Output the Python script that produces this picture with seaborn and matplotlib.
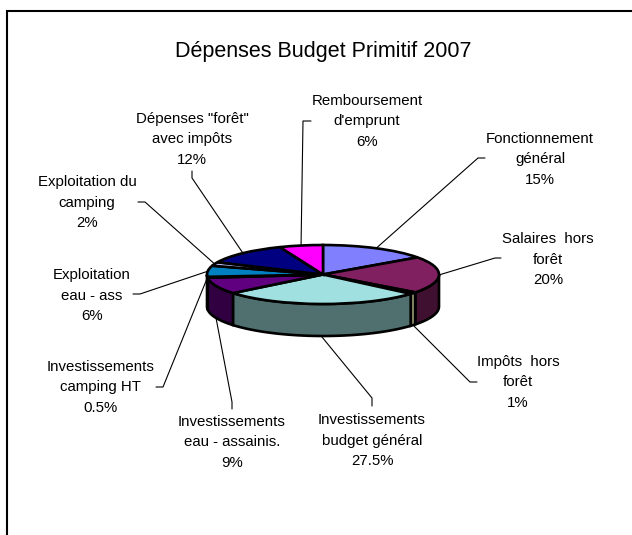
import numpy as np
import seaborn as sns
import matplotlib.pyplot as plt
from matplotlib.patches import Polygon

W, H = 632, 535

title = "Dépenses Budget Primitif 2007"
labels = ["Fonctionnement\ngénéral\n15%", "Salaires  hors\nforêt\n20%", "Impôts  hors\nforêt\n1%",
          "Investissements\nbudget général\n27.5%", "Investissements\neau - assainis.\n9%",
          "Investissements\ncamping HT\n0.5%", "Exploitation\neau - ass\n6%",
          "Exploitation du\ncamping\n2%", "Dépenses \"forêt\"\navec impôts\n12%",
          "Remboursement\nd'emprunt\n6%"]
values = [15, 20, 1, 27.5, 9, 0.5, 6, 2, 12, 6]
colors = ["#8080FF", "#802060", "#FFFFC0", "#A0E0E0", "#600080",
          "#E08080", "#0080C0", "#C0C0FF", "#000080", "#FF00FF"]

# label centres and leader elbows, pixels from top left
label_xy = [(540, 159.5), (548, 259.5), (518, 382.5), (372, 440.5), (232, 442.5),
            (101, 387.5), (92, 295.5), (87, 202.5), (192, 139.5), (367, 121.5)]
elbows = [[(478, 158), (485, 158)], [(495, 258), (501, 258)], [(470, 382), (477, 382)],
          [(372, 398), (372, 406)], [(232, 402), (232, 409)], [(163, 387), (156, 387)],
          [(140, 294), (133, 294)], [(145, 202), (138, 202)], [(192, 178), (192, 171)],
          [(303, 121), (311, 121)]]

# pie ellipse in pixels
cx, cy, rx, ry, depth = 323, 274.5, 116, 29.5, 32

sns.set_theme(style="white")
plt.rcParams["font.family"] = ["Liberation Sans", "DejaVu Sans"]
palette = sns.color_palette(colors)

fig = plt.figure(figsize=(W / 100, H / 100), dpi=100)

# background axes in pixels, for frame, text and leaders
bg = fig.add_axes([0, 0, 1, 1])
bg.set_xlim(0, W)
bg.set_ylim(H, 0)
bg.axis("off")
bg.plot([7, 7, W], [H, 10.5, 10.5], color="black", lw=1.5, solid_joinstyle="miter")
bg.text(cx, 51.5, title, ha="center", va="center", fontsize=15.5, color="black")

# pie axes: box is the ellipse plus the wall, x and y run -1..1 on the top face
ax = fig.add_axes([(cx - rx - 4) / W, 1 - (cy + ry + depth + 4) / H, (2 * rx + 8) / W, (2 * ry + depth + 8) / H])
wedges, _ = ax.pie(values, colors=palette, startangle=90, counterclock=False,
                   wedgeprops={"edgecolor": "black", "linewidth": 1.9})
ax.set_aspect("auto")
ax.set_xlim(-1 - 4 / rx, 1 + 4 / rx)
ax.set_ylim(-1 - (depth + 4) / ry, 1 + 4 / ry)
ax.axis("off")

# side wall of each slice, only the front half shows
shares = np.array(values) / sum(values) * 360
ends = np.cumsum(shares)
starts = ends - shares
for a, b, col in zip(starts, ends, palette):
    lo, hi = max(a, 90), min(b, 270)
    if hi <= lo:
        continue
    t = np.radians(np.linspace(lo, hi, 40))
    xs, ys = np.sin(t), np.cos(t)
    pts = np.r_[np.c_[xs, ys], np.c_[xs, ys - depth / ry][::-1]]
    dark = tuple(c * 0.5 for c in col)
    ax.add_patch(Polygon(pts, closed=True, facecolor=dark, edgecolor="black", lw=1.9, zorder=0.5))

# labels and leaders
mids = np.radians((starts + ends) / 2)
for lab, xy, elbow, m in zip(labels, label_xy, elbows, mids):
    bg.text(xy[0], xy[1], lab, ha="center", va="center", fontsize=10.8, color="black", linespacing=1.62)
    ax_x = cx + rx * np.sin(m)
    ax_y = cy - ry * np.cos(m)
    if np.cos(m) < -0.1:
        ax_y += depth
    px = [ax_x] + [p[0] for p in elbow]
    py = [ax_y] + [p[1] for p in elbow]
    bg.plot(px, py, color="black", lw=0.8)

fig.savefig("out.png", dpi=100, facecolor="white")
